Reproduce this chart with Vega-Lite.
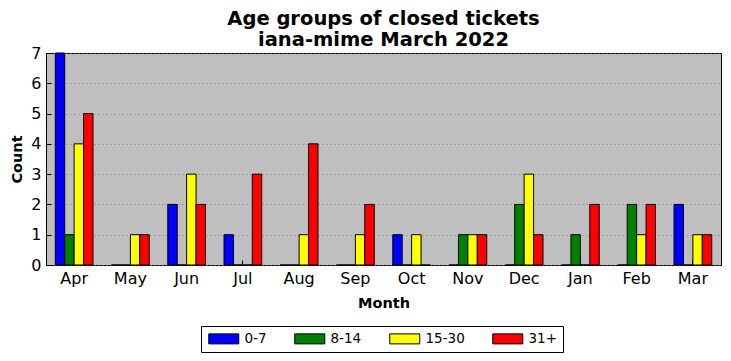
{
  "$schema": "https://vega.github.io/schema/vega-lite/v6.json",
  "width": 675,
  "height": 212,
  "autosize": "none",
  "padding": {"left": 46, "top": 53, "right": 10, "bottom": 96},
  "title": {
    "text": ["Age groups of closed tickets", "iana-mime March 2022"],
    "font": "DejaVu Sans",
    "fontSize": 19.5,
    "fontWeight": "bold",
    "lineHeight": 21,
    "color": "black",
    "anchor": "middle",
    "frame": "group",
    "offset": 5,
    "dy": 10
  },
  "config": {
    "font": "DejaVu Sans",
    "view": {"fill": "#bfbfbf", "stroke": "black", "strokeWidth": 1},
    "axis": {
      "labelFont": "DejaVu Sans",
      "labelFontSize": 16,
      "labelColor": "black",
      "labelOverlap": false,
      "titleFont": "DejaVu Sans",
      "titleFontSize": 14.5,
      "titleFontWeight": "bold",
      "titleColor": "black",
      "domain": false,
      "tickColor": "black",
      "tickSize": -5,
      "labelPadding": 10
    }
  },
  "data": {
    "values": [
      {"month": "Apr", "group": "0-7", "count": 7},
      {"month": "Apr", "group": "8-14", "count": 1},
      {"month": "Apr", "group": "15-30", "count": 4},
      {"month": "Apr", "group": "31+", "count": 5},
      {"month": "May", "group": "0-7", "count": 0},
      {"month": "May", "group": "8-14", "count": 0},
      {"month": "May", "group": "15-30", "count": 1},
      {"month": "May", "group": "31+", "count": 1},
      {"month": "Jun", "group": "0-7", "count": 2},
      {"month": "Jun", "group": "8-14", "count": 0},
      {"month": "Jun", "group": "15-30", "count": 3},
      {"month": "Jun", "group": "31+", "count": 2},
      {"month": "Jul", "group": "0-7", "count": 1},
      {"month": "Jul", "group": "8-14", "count": 0},
      {"month": "Jul", "group": "15-30", "count": 0},
      {"month": "Jul", "group": "31+", "count": 3},
      {"month": "Aug", "group": "0-7", "count": 0},
      {"month": "Aug", "group": "8-14", "count": 0},
      {"month": "Aug", "group": "15-30", "count": 1},
      {"month": "Aug", "group": "31+", "count": 4},
      {"month": "Sep", "group": "0-7", "count": 0},
      {"month": "Sep", "group": "8-14", "count": 0},
      {"month": "Sep", "group": "15-30", "count": 1},
      {"month": "Sep", "group": "31+", "count": 2},
      {"month": "Oct", "group": "0-7", "count": 1},
      {"month": "Oct", "group": "8-14", "count": 0},
      {"month": "Oct", "group": "15-30", "count": 1},
      {"month": "Oct", "group": "31+", "count": 0},
      {"month": "Nov", "group": "0-7", "count": 0},
      {"month": "Nov", "group": "8-14", "count": 1},
      {"month": "Nov", "group": "15-30", "count": 1},
      {"month": "Nov", "group": "31+", "count": 1},
      {"month": "Dec", "group": "0-7", "count": 0},
      {"month": "Dec", "group": "8-14", "count": 2},
      {"month": "Dec", "group": "15-30", "count": 3},
      {"month": "Dec", "group": "31+", "count": 1},
      {"month": "Jan", "group": "0-7", "count": 0},
      {"month": "Jan", "group": "8-14", "count": 1},
      {"month": "Jan", "group": "15-30", "count": 0},
      {"month": "Jan", "group": "31+", "count": 2},
      {"month": "Feb", "group": "0-7", "count": 0},
      {"month": "Feb", "group": "8-14", "count": 2},
      {"month": "Feb", "group": "15-30", "count": 1},
      {"month": "Feb", "group": "31+", "count": 2},
      {"month": "Mar", "group": "0-7", "count": 2},
      {"month": "Mar", "group": "8-14", "count": 0},
      {"month": "Mar", "group": "15-30", "count": 1},
      {"month": "Mar", "group": "31+", "count": 1}
    ]
  },
  "mark": {"type": "bar", "stroke": "black", "strokeWidth": 1, "opacity": 1},
  "encoding": {
    "x": {
      "field": "month",
      "type": "nominal",
      "sort": ["Apr", "May", "Jun", "Jul", "Aug", "Sep", "Oct", "Nov", "Dec", "Jan", "Feb", "Mar"],
      "scale": {"paddingInner": 0.33, "paddingOuter": 0.165},
      "axis": {"title": "Month", "labelAngle": 0, "orient": "bottom", "titlePadding": 10}
    },
    "xOffset": {
      "field": "group",
      "type": "nominal",
      "sort": ["0-7", "8-14", "15-30", "31+"],
      "scale": {"paddingInner": 0, "paddingOuter": 0}
    },
    "y": {
      "field": "count",
      "type": "quantitative",
      "scale": {"domain": [0, 7], "nice": false},
      "axis": {
        "title": "Count",
        "orient": "left",
        "values": [0, 1, 2, 3, 4, 5, 6, 7],
        "grid": true,
        "gridColor": "#808080",
        "gridDash": [1, 3],
        "gridWidth": 1,
        "titlePadding": 6
      }
    },
    "color": {
      "field": "group",
      "type": "nominal",
      "sort": ["0-7", "8-14", "15-30", "31+"],
      "scale": {"domain": ["0-7", "8-14", "15-30", "31+"], "range": ["#0000ff", "#008000", "#ffff00", "#ff0000"]},
      "legend": {
        "title": null,
        "orient": "none",
        "direction": "horizontal",
        "columns": 4,
        "legendX": 155,
        "legendY": 273,
        "symbolType": "M-1,-1H5V1H-1Z",
        "symbolSize": 100,
        "symbolStrokeColor": "black",
        "symbolStrokeWidth": 1,
        "symbolOpacity": 1,
        "labelFontSize": 13.5,
        "labelFont": "DejaVu Sans",
        "labelColor": "black",
        "labelOffset": 24,
        "columnPadding": 25,
        "padding": 6,
        "strokeColor": "black",
        "fillColor": "white"
      }
    }
  }
}
